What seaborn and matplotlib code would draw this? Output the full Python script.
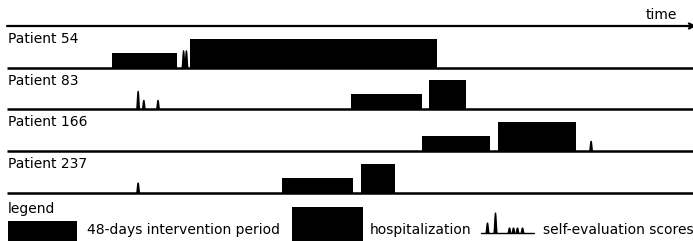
import numpy as np
import seaborn as sns
from matplotlib import pyplot as plt

# timeline data (days from start of observation)
patients = ["Patient 54", "Patient 83", "Patient 166", "Patient 237"]
intervention_start = [74, 242, 292, 194]
intervention_end = [120, 292, 340, 244]
hospital_start = [129, 297, 346, 249]
hospital_end = [303, 323, 401, 273]
score_days = [[124, 126], [92, 96, 106], [411], [92]]
score_heights = [[0.43, 0.43], [0.46, 0.24, 0.24], [0.26], [0.26]]

legend_labels = ["48-days intervention period", "hospitalization", "self-evaluation scores"]

INTERVENTION_H = 0.36
HOSPITAL_H = 0.70


def bump(x0, h, base, width, sign=1):
    """rounded narrow peak used for self-evaluation scores"""
    xs = np.linspace(x0 - 3 * width, x0 + 3 * width, 81)
    ys = base + sign * h * np.exp(-(((xs - x0) / width) ** 4))
    return xs, ys


def main() -> None:
    sns.set_style("white")
    plt.rcParams["font.family"] = ["DejaVu Sans"]
    plt.rcParams["text.color"] = "black"

    fig = plt.figure(figsize=(6.93, 2.41), dpi=100)
    ax = fig.add_axes([0, 0, 1, 1])
    ax.set_xlim(-4.93, 483.1)
    ax.set_ylim(-5.156, 0.6235)
    ax.axis("off")

    # time axis
    ax.annotate("", xy=(485.5, 0), xytext=(0, 0), annotation_clip=False,
                arrowprops=dict(arrowstyle="->", lw=1.6, color="black",
                                shrinkA=0, shrinkB=0, mutation_scale=9))
    ax.text(461, 0.264, "time", ha="center", va="center", fontsize=10)

    for i, name in enumerate(patients):
        base = -(i + 1)
        ax.plot([0, 483.1], [base, base], color="black", lw=1.8, solid_capstyle="butt")
        ax.text(0.5, base + 0.69, name, ha="left", va="center", fontsize=10)
        ax.bar(intervention_start[i], INTERVENTION_H,
               width=intervention_end[i] - intervention_start[i],
               bottom=base, align="edge", color="black", lw=0)
        ax.bar(hospital_start[i], HOSPITAL_H,
               width=hospital_end[i] - hospital_start[i],
               bottom=base, align="edge", color="black", lw=0)
        for d, h in zip(score_days[i], score_heights[i]):
            xs, ys = bump(d, h, base, 1.1)
            ax.fill_between(xs, base, ys, color="black", lw=0)

    # legend in pixel coordinates
    lax = fig.add_axes([0, 0, 1, 1])
    lax.set_xlim(0, 693)
    lax.set_ylim(241, 0)
    lax.axis("off")
    lax.text(8, 209, "legend", ha="left", va="center", fontsize=10)
    lax.add_patch(plt.Rectangle((8, 221), 69, 25, color="black", lw=0))
    lax.text(87, 230, legend_labels[0], ha="left", va="center", fontsize=10)
    lax.add_patch(plt.Rectangle((292, 207), 71, 40, color="black", lw=0))
    lax.text(370, 230, legend_labels[1], ha="left", va="center", fontsize=10)
    lax.plot([481, 534], [233, 233], color="black", lw=1)
    for x0, h in [(487, 11), (495, 21), (509, 6), (513, 6), (517, 6), (522, 6)]:
        xs, ys = bump(x0, h, 233, 1.6, sign=-1)
        lax.fill_between(xs, 233, ys, color="black", lw=0)
    lax.text(543, 230, legend_labels[2], ha="left", va="center", fontsize=10)

    fig.savefig("out.png", dpi=100)


if __name__ == "__main__":
    main()
